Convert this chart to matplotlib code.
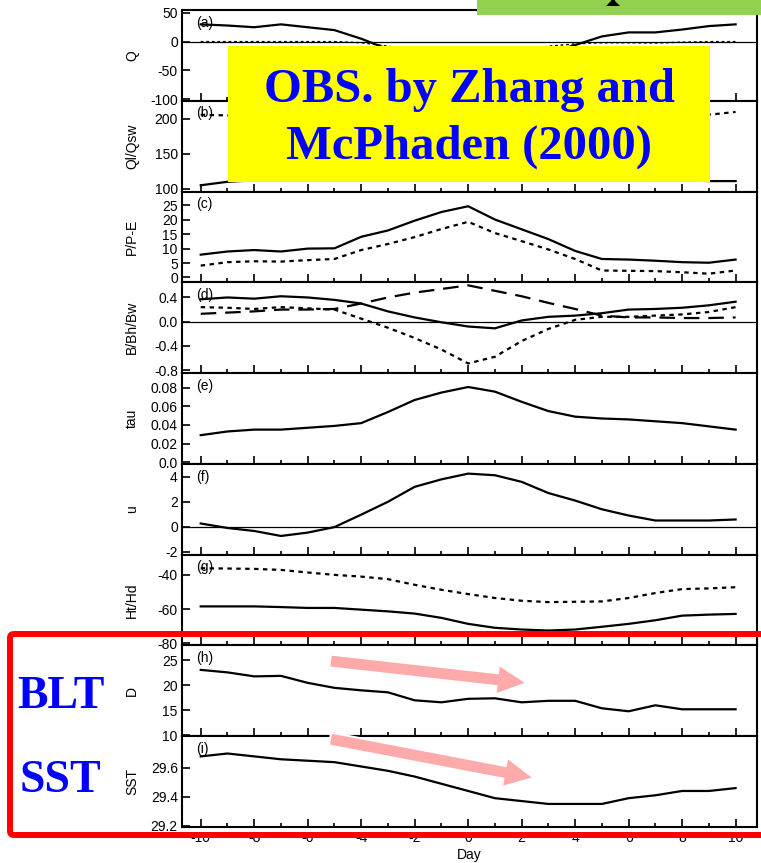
import matplotlib
matplotlib.use('Agg')
import matplotlib.pyplot as plt
from matplotlib.patches import Rectangle, FancyArrow, FancyBboxPatch, Polygon
from matplotlib.ticker import MultipleLocator
import numpy as np

plt.rcParams['font.family'] = ['Liberation Sans', 'DejaVu Sans']
plt.rcParams['axes.unicode_minus'] = False

days = np.arange(-10, 11)
day_ticks = [-10, -8, -6, -4, -2, 0, 2, 4, 6, 8, 10]

# (a) net heat flux
q_solid = [30, 28, 25, 30, 25, 20, 5, -13, -40, -62, -72, -62, -42, -20, -6, 9, 16, 16, 21, 27, 30]
q_dot = [0, 0, 0, 0, 0, 0, -2, -8, -15, -20, -22, -20, -15, -8, -4, -2, -2, -2.5, -1, 0, 0]
# (b) Ql / Qsw
ql_solid = [105, 110, 112, 115, 118, 120, 125, 130, 135, 138, 140, 138, 135, 130, 125, 120, 116, 113, 112, 111, 111]
ql_dash = [206, 205, 203, 200, 198, 195, 192, 190, 188, 186, 185, 186, 188, 190, 193, 196, 199, 202, 204, 206, 210]
# (c) P and P-E
p_solid = [7.9, 9.0, 9.5, 9.0, 10.0, 10.1, 14.1, 16.3, 19.7, 22.7, 24.7, 20.1, 16.7, 13.3, 9.2, 6.4, 6.2, 5.8, 5.3, 5.1, 6.2]
pe_dot = [4.1, 5.3, 5.6, 5.5, 6.0, 6.4, 9.5, 11.6, 14.0, 16.8, 19.3, 15.4, 12.6, 9.7, 6.4, 2.4, 2.3, 2.2, 1.8, 1.3, 2.4]
# (d) B / Bh / Bw
b_solid = [0.37, 0.40, 0.38, 0.42, 0.40, 0.36, 0.30, 0.17, 0.07, -0.01, -0.08, -0.11, 0.02, 0.08, 0.10, 0.14, 0.20, 0.21, 0.23, 0.27, 0.33]
bh_dot = [0.24, 0.23, 0.21, 0.24, 0.22, 0.20, 0.05, -0.10, -0.27, -0.46, -0.69, -0.58, -0.32, -0.12, 0.03, 0.08, 0.08, 0.10, 0.12, 0.16, 0.24]
bw_dash = [0.13, 0.15, 0.17, 0.20, 0.20, 0.21, 0.30, 0.40, 0.48, 0.54, 0.60, 0.51, 0.42, 0.31, 0.21, 0.10, 0.07, 0.07, 0.06, 0.06, 0.07]
# (e) wind stress
tau = [0.029, 0.033, 0.035, 0.035, 0.037, 0.039, 0.042, 0.054, 0.067, 0.075, 0.081, 0.076, 0.065, 0.055, 0.049, 0.047, 0.046, 0.044, 0.042, 0.0385, 0.035]
# (f) zonal wind
u = [0.26, -0.1, -0.34, -0.74, -0.47, -0.03, 0.97, 2.0, 3.2, 3.8, 4.26, 4.13, 3.6, 2.7, 2.1, 1.4, 0.9, 0.5, 0.5, 0.5, 0.58]
# (g) Ht / Hd
hd_dot = [-36.1, -36.3, -36.5, -37.1, -38.6, -40, -41, -42.5, -45.8, -48.7, -51.2, -53.5, -55.1, -55.9, -55.7, -55.5, -53.5, -50.6, -48.3, -47.9, -47.2]
ht_solid = [-58.4, -58.4, -58.4, -58.8, -59.3, -59.3, -60.3, -61.3, -62.6, -65.1, -68.6, -70.9, -71.9, -72.5, -71.9, -70.3, -68.6, -66.5, -63.8, -63.2, -62.8]
# (h) mixed layer depth
d_blt = [23.1, 22.6, 21.8, 21.9, 20.5, 19.5, 19.0, 18.6, 17.0, 16.6, 17.3, 17.4, 16.6, 16.9, 16.9, 15.4, 14.8, 16.0, 15.2, 15.2, 15.2]
# (i) SST
sst = [29.68, 29.70, 29.68, 29.66, 29.65, 29.64, 29.61, 29.58, 29.54, 29.49, 29.44, 29.39, 29.37, 29.35, 29.35, 29.35, 29.39, 29.41, 29.44, 29.44, 29.46]

panels = [
    ('(a)', 'Q', (-103, 55), [-100, -50, 0, 50], ['-100', '-50', '0', '50']),
    ('(b)', 'Ql/Qsw', (96, 226), [100, 150, 200], ['100', '150', '200']),
    ('(c)', 'P/P-E', (-1.7, 29.8), [0, 5, 10, 15, 20, 25], ['0', '5', '10', '15', '20', '25']),
    ('(d)', 'B/Bh/Bw', (-0.85, 0.65), [-0.8, -0.4, 0.0, 0.4], ['-0.8', '-0.4', '0.0', '0.4']),
    ('(e)', 'tau', (-0.002, 0.096), [0, 0.02, 0.04, 0.06, 0.08], ['0.0', '0.02', '0.04', '0.06', '0.08']),
    ('(f)', 'u', (-2.24, 5.04), [-2, 0, 2, 4], ['-2', '0', '2', '4']),
    ('(g)', 'Ht/Hd', (-81.2, -28.2), [-80, -60, -40], ['-80', '-60', '-40']),
    ('(h)', 'D', (9.8, 28), [10, 15, 20, 25], ['10', '15', '20', '25']),
    ('(i)', 'SST', (29.19, 29.82), [29.2, 29.4, 29.6], ['29.2', '29.4', '29.6']),
]

W, H = 761, 863
fig = plt.figure(figsize=(W / 100, H / 100), dpi=100)

left, right, top, bottom = 182, 757, 10, 827
ph = (bottom - top) / len(panels)
axes = []
for i, (tag, ylab, ylim, yt, ytl) in enumerate(panels):
    y0 = top + (i + 1) * ph
    ax = fig.add_axes([left / W, 1 - y0 / H, (right - left) / W, ph / H])
    ax.set_xlim(-10.7, 10.8)
    ax.set_ylim(*ylim)
    ax.set_yticks(yt)
    ax.set_yticklabels(ytl, fontsize=10)
    ax.set_xticks(day_ticks)
    ax.xaxis.set_minor_locator(MultipleLocator(1))
    ax.tick_params(axis='both', which='major', direction='in', length=6, width=1.2)
    ax.tick_params(axis='x', which='minor', direction='in', length=3, width=1.2)
    ax.tick_params(top=False, right=False, labelbottom=(i == len(panels) - 1), pad=3)
    for s in ax.spines.values():
        s.set_linewidth(1.5)
    ax.set_ylabel(ylab, fontsize=10)
    ax.yaxis.set_label_coords(-0.075, 0.5)
    ax.text(0.024, 0.86, tag, transform=ax.transAxes, fontsize=10, va='center', ha='left')
    axes.append(ax)

lw = 1.6
dot = (0, (2, 2))
dash = (0, (7, 4))

ax = axes[0]
ax.plot(days, q_dot, color='k', lw=1.0, ls=dot)
ax.axhline(0, color='k', lw=0.9)
ax.plot(days, q_solid, color='k', lw=lw)

ax = axes[1]
ax.plot(days, ql_dash, color='k', lw=lw, ls=dot)
ax.plot(days, ql_solid, color='k', lw=lw)

ax = axes[2]
ax.plot(days, pe_dot, color='k', lw=lw, ls=dot)
ax.plot(days, p_solid, color='k', lw=lw)

ax = axes[3]
ax.axhline(0, color='k', lw=0.9)
ax.plot(days, bh_dot, color='k', lw=lw, ls=dot)
ax.plot(days, bw_dash, color='k', lw=lw, ls=dash)
ax.plot(days, b_solid, color='k', lw=lw)

axes[4].plot(days, tau, color='k', lw=lw)

ax = axes[5]
ax.axhline(0, color='k', lw=0.9)
ax.plot(days, u, color='k', lw=lw)

ax = axes[6]
ax.plot(days, hd_dot, color='k', lw=lw, ls=dot)
ax.plot(days, ht_solid, color='k', lw=lw)

axes[7].plot(days, d_blt, color='k', lw=lw)

ax = axes[8]
ax.plot(days, sst, color='k', lw=lw)
ax.set_xticklabels([str(d) for d in day_ticks], fontsize=10)
ax.set_xlabel('Day', fontsize=10, labelpad=2)

# overlay drawn in pixel coordinates
ov = fig.add_axes([0, 0, 1, 1], zorder=10)
ov.set_xlim(0, W)
ov.set_ylim(H, 0)
ov.patch.set_facecolor('none')
ov.axis('off')

ov.add_patch(Rectangle((477, -5), 300, 20, fc='#92D050', ec='none'))
# bottom of a cut-off glyph in the green banner
ov.add_patch(Polygon([(606, 6), (620, 6), (615, 1), (615, -1), (611, -1), (611, 1)],
                     closed=True, fc='k', ec='none'))

ov.add_patch(Rectangle((228, 46), 482, 136, fc='#FFFF00', ec='none'))
ov.text(469, 102, 'OBS. by Zhang and', fontsize=35, fontweight='bold', family='Liberation Serif',
        color='#0000FF', ha='center', va='baseline')
ov.text(469, 159, 'McPhaden (2000)', fontsize=35, fontweight='bold', family='Liberation Serif',
        color='#0000FF', ha='center', va='baseline')

ov.add_patch(FancyBboxPatch((10, 634), 780, 201, boxstyle='round,pad=0,rounding_size=4',
                            fc='none', ec='#FF0000', lw=4.3))
ov.text(17, 708, 'BLT', fontsize=33, fontweight='bold', family='Liberation Serif',
        color='#0000FF', ha='left', va='baseline')
ov.text(20, 792, 'SST', fontsize=33, fontweight='bold', family='Liberation Serif',
        color='#0000FF', ha='left', va='baseline')

for (x0, y0, x1, y1) in [(330, 661, 527, 683), (330, 739, 534, 778)]:
    ov.add_patch(FancyArrow(x0, y0, x1 - x0, y1 - y0, width=13, head_width=30, head_length=30,
                            length_includes_head=True, fc='#FFAAAA', ec='white', lw=1.5))

plt.savefig('out.png', dpi=100)
